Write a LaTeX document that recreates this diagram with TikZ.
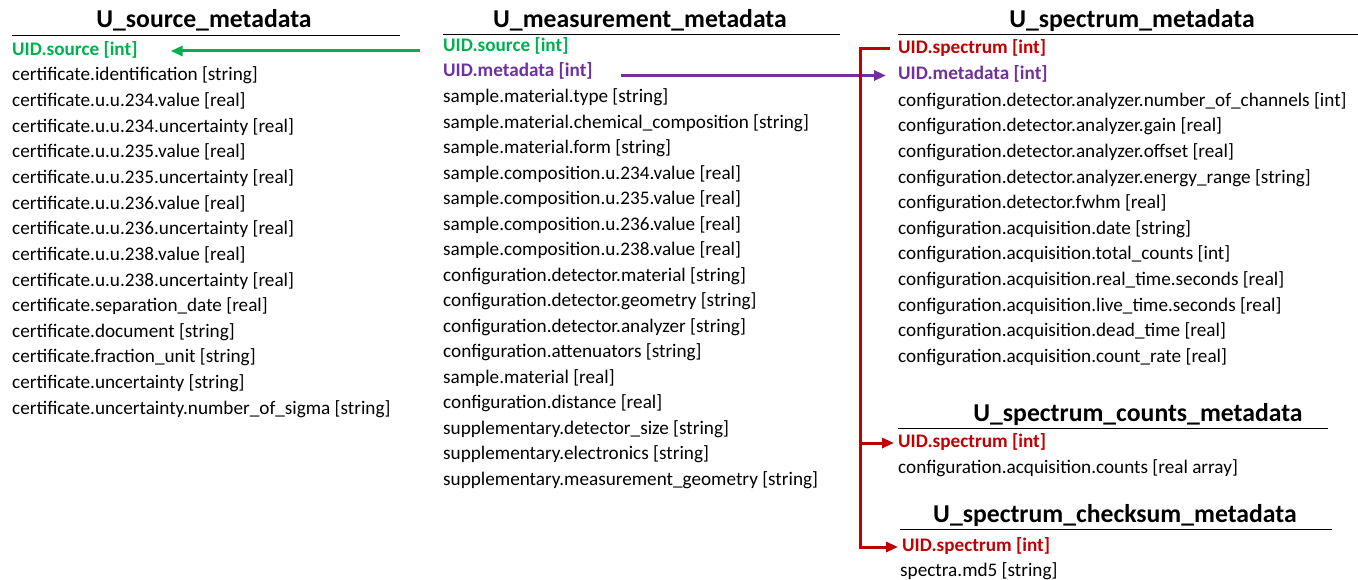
\documentclass[tikz,border=0pt]{standalone}
\usepackage{fontspec}
\setmainfont{Carlito}
\usetikzlibrary{arrows.meta}
\definecolor{ugreen}{RGB}{0,176,80}
\definecolor{upurple}{RGB}{112,48,160}
\definecolor{ured}{RGB}{192,0,0}
\begin{document}
\begin{tikzpicture}[x=1pt,y=-1pt,
  row/.style={anchor=west,inner sep=0pt,yshift=-2pt,font=\fontsize{19.2}{22}\selectfont,text height=13pt,text depth=4.5pt},
  key/.style={row,font=\fontsize{19.2}{22}\selectfont\bfseries},
  ttl/.style={inner sep=0pt,font=\fontsize{25.7}{30}\selectfont\bfseries},
  rule/.style={line width=0.9pt},
  conn/.style={line width=3pt,-{Triangle[length=12pt,width=10pt]}}]
\useasboundingbox (0,0) rectangle (1358,580);
% ---------- U_source_metadata
\node[ttl] (t1) at (204,20.5) {U\_source\_metadata};
\draw[rule] (12,35) -- (400,35);
\node[key,text=ugreen] (s1) at (12,49) {UID.source [int]};
\foreach \t [count=\i from 2] in {
 certificate.identification [string],
 certificate.u.u.234.value [real],
 certificate.u.u.234.uncertainty [real],
 certificate.u.u.235.value [real],
 certificate.u.u.235.uncertainty [real],
 certificate.u.u.236.value [real],
 certificate.u.u.236.uncertainty [real],
 certificate.u.u.238.value [real],
 certificate.u.u.238.uncertainty [real],
 certificate.separation\_date [real],
 certificate.document [string],
 certificate.fraction\_unit [string],
 certificate.uncertainty [string],
 certificate.uncertainty.number\_of\_sigma [string]}
 \node[row] (s\i) at (12,{49+25.64*(\i-1)}) {\t};
% ---------- U_measurement_metadata
\node[ttl] (t2) at (640,20.5) {U\_measurement\_metadata};
\draw[rule] (443,34) -- (840,34);
\node[key,text=ugreen] (m1) at (443,45.5) {UID.source [int]};
\node[key,text=upurple] (m2) at (443,70.5) {UID.metadata [int]};
\foreach \t [count=\i from 3] in {
 sample.material.type [string],
 sample.material.chemical\_composition [string],
 sample.material.form [string],
 sample.composition.u.234.value [real],
 sample.composition.u.235.value [real],
 sample.composition.u.236.value [real],
 sample.composition.u.238.value [real],
 configuration.detector.material [string],
 configuration.detector.geometry [string],
 configuration.detector.analyzer [string],
 configuration.attenuators [string],
 sample.material [real],
 configuration.distance [real],
 supplementary.detector\_size [string],
 supplementary.electronics [string],
 supplementary.measurement\_geometry [string]}
 \node[row] (m\i) at (443,{45.5+25.5*(\i-1)}) {\t};
% ---------- U_spectrum_metadata
\node[ttl] (t3) at (1132,20.5) {U\_spectrum\_metadata};
\draw[rule] (898,34) -- (1358,34);
\node[key,text=ured] (p1) at (898,47) {UID.spectrum [int]};
\node[key,text=upurple] (p2) at (898,73.5) {UID.metadata [int]};
\foreach \t [count=\i from 3] in {
 configuration.detector.analyzer.number\_of\_channels [int],
 configuration.detector.analyzer.gain [real],
 configuration.detector.analyzer.offset [real],
 configuration.detector.analyzer.energy\_range [string],
 configuration.detector.fwhm [real],
 configuration.acquisition.date [string],
 configuration.acquisition.total\_counts [int],
 configuration.acquisition.real\_time.seconds [real],
 configuration.acquisition.live\_time.seconds [real],
 configuration.acquisition.dead\_time [real],
 configuration.acquisition.count\_rate [real]}
 \node[row] (p\i) at (898,{100+25.6*(\i-3)}) {\t};
% ---------- U_spectrum_counts_metadata
\node[ttl] (t4) at (1138,414.5) {U\_spectrum\_counts\_metadata};
\draw[rule] (898,428) -- (1328,428);
\node[key,text=ured] (c1) at (898,441) {UID.spectrum [int]};
\node[row] (c2) at (898,467) {configuration.acquisition.counts [real array]};
% ---------- U_spectrum_checksum_metadata
\node[ttl] (t5) at (1115,515.5) {U\_spectrum\_checksum\_metadata};
\draw[rule] (900,529) -- (1332,529);
\node[key,text=ured] (k1) at (902,545) {UID.spectrum [int]};
\node[row] (k2) at (900,570) {spectra.md5 [string]};
% ---------- connectors
\coordinate (rj) at (860,0);
\draw[conn,ugreen] ([xshift=-23pt]m1.west |- s1.east) -- ([xshift=33pt]s1.east);
\draw[conn,upurple] ([xshift=28pt]m2.east |- p2.west) -- ([xshift=-12pt]p2.west);
\draw[line width=3pt,ured,line join=miter] ([xshift=-8pt]p1.west) -| (rj |- k1.west) -- ([xshift=-9pt]k1.west);
\draw[conn,ured] (rj |- k1.west) -- ([xshift=-4pt]k1.west);
\draw[conn,ured] (rj |- c1.west) -- ([xshift=-4pt]c1.west);
\end{tikzpicture}
\end{document}
